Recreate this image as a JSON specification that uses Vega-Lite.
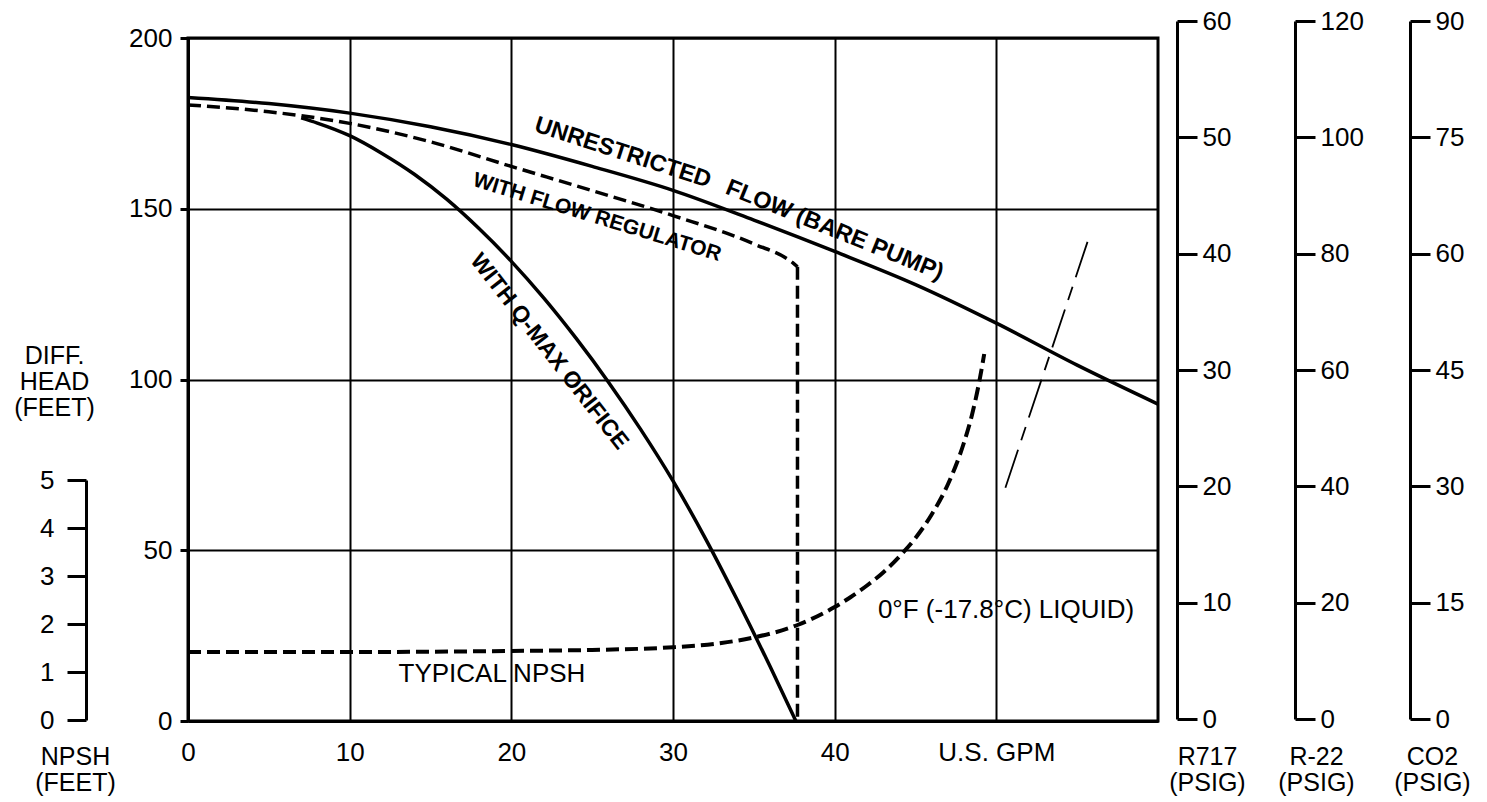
{
  "$schema": "https://vega.github.io/schema/vega-lite/v6.json",
  "width": 970,
  "height": 683,
  "autosize": {"type": "none"},
  "padding": {"left": 188, "top": 38, "right": 329, "bottom": 81},
  "background": "white",
  "config": {
    "view": {"stroke": "black", "strokeWidth": 3},
    "font": "Liberation Sans",
    "axis": {
      "labelFont": "Liberation Sans",
      "labelFontSize": 26,
      "labelColor": "black",
      "labelFlush": false,
      "labelOverlap": false,
      "titleFont": "Liberation Sans",
      "titleFontSize": 25,
      "titleFontWeight": "normal",
      "titleColor": "black",
      "titleLineHeight": 26,
      "domainColor": "black",
      "domainWidth": 3,
      "tickColor": "black",
      "tickWidth": 3,
      "gridColor": "black",
      "gridWidth": 2,
      "gridOpacity": 1
    }
  },
  "datasets": {
    "curves": [
      {"series": "Unrestricted flow", "gpm": 0, "head": 182.6},
      {"series": "Unrestricted flow", "gpm": 5, "head": 180.8},
      {"series": "Unrestricted flow", "gpm": 10, "head": 178.0},
      {"series": "Unrestricted flow", "gpm": 15, "head": 174.0},
      {"series": "Unrestricted flow", "gpm": 20, "head": 168.8},
      {"series": "Unrestricted flow", "gpm": 25, "head": 162.4},
      {"series": "Unrestricted flow", "gpm": 30, "head": 155.4},
      {"series": "Unrestricted flow", "gpm": 35, "head": 146.7},
      {"series": "Unrestricted flow", "gpm": 40, "head": 137.5},
      {"series": "Unrestricted flow", "gpm": 45, "head": 127.8},
      {"series": "Unrestricted flow", "gpm": 50, "head": 116.5},
      {"series": "Unrestricted flow", "gpm": 55, "head": 104.2},
      {"series": "Unrestricted flow", "gpm": 60, "head": 92.8},
      {"series": "Flow regulator", "gpm": 0, "head": 180.4},
      {"series": "Flow regulator", "gpm": 5, "head": 178.4},
      {"series": "Flow regulator", "gpm": 10, "head": 175.0},
      {"series": "Flow regulator", "gpm": 15, "head": 169.6},
      {"series": "Flow regulator", "gpm": 20, "head": 162.4},
      {"series": "Flow regulator", "gpm": 25, "head": 155.3},
      {"series": "Flow regulator", "gpm": 30, "head": 148.0},
      {"series": "Flow regulator", "gpm": 35, "head": 139.7},
      {"series": "Flow regulator", "gpm": 37.4, "head": 134.2},
      {"series": "Flow regulator", "gpm": 37.7, "head": 133.0},
      {"series": "Flow regulator drop", "gpm": 37.7, "head": 133.0},
      {"series": "Flow regulator drop", "gpm": 37.7, "head": 0},
      {"series": "Q-max orifice", "gpm": 7.0, "head": 176.6},
      {"series": "Q-max orifice", "gpm": 8, "head": 175.1},
      {"series": "Q-max orifice", "gpm": 10, "head": 171.4},
      {"series": "Q-max orifice", "gpm": 12, "head": 166.2},
      {"series": "Q-max orifice", "gpm": 14, "head": 160.1},
      {"series": "Q-max orifice", "gpm": 16, "head": 152.8},
      {"series": "Q-max orifice", "gpm": 18, "head": 144.2},
      {"series": "Q-max orifice", "gpm": 20, "head": 134.6},
      {"series": "Q-max orifice", "gpm": 22, "head": 123.9},
      {"series": "Q-max orifice", "gpm": 24, "head": 112.1},
      {"series": "Q-max orifice", "gpm": 26, "head": 99.3},
      {"series": "Q-max orifice", "gpm": 28, "head": 85.4},
      {"series": "Q-max orifice", "gpm": 30, "head": 70.3},
      {"series": "Q-max orifice", "gpm": 32, "head": 53.5},
      {"series": "Q-max orifice", "gpm": 34, "head": 35.2},
      {"series": "Q-max orifice", "gpm": 36, "head": 16.0},
      {"series": "Q-max orifice", "gpm": 37.6, "head": 0},
      {"series": "Limit", "gpm": 50.56, "head": 68.3},
      {"series": "Limit", "gpm": 55.64, "head": 140.3}
    ],
    "npsh": [
      {"gpm": 0, "npsh": 1.417},
      {"gpm": 10, "npsh": 1.417},
      {"gpm": 20, "npsh": 1.438},
      {"gpm": 25, "npsh": 1.46},
      {"gpm": 30, "npsh": 1.515},
      {"gpm": 33, "npsh": 1.604},
      {"gpm": 35, "npsh": 1.719},
      {"gpm": 37.7, "npsh": 1.979},
      {"gpm": 40, "npsh": 2.354},
      {"gpm": 41, "npsh": 2.563},
      {"gpm": 42, "npsh": 2.802},
      {"gpm": 43, "npsh": 3.073},
      {"gpm": 44, "npsh": 3.406},
      {"gpm": 45, "npsh": 3.792},
      {"gpm": 46, "npsh": 4.281},
      {"gpm": 47, "npsh": 4.906},
      {"gpm": 48, "npsh": 5.781},
      {"gpm": 48.5, "npsh": 6.365},
      {"gpm": 49, "npsh": 7.146},
      {"gpm": 49.25, "npsh": 7.625}
    ]
  },
  "encoding": {
    "x": {
      "field": "gpm",
      "type": "quantitative",
      "scale": {"domain": [0, 60], "nice": false, "zero": false},
      "axis": {
        "values": [0, 10, 20, 30, 40, 50],
        "grid": true,
        "ticks": false,
        "labelPadding": 18,
        "title": null,
        "labelExpr": "datum.value == 50 ? 'U.S. GPM' : datum.label"
      }
    }
  },
  "layer": [
    {
      "data": {"name": "curves"},
      "encoding": {
        "y": {
          "field": "head",
          "type": "quantitative",
          "scale": {"domain": [0, 200], "nice": false, "zero": false},
          "axis": {
            "orient": "left",
            "offset": 0,
            "values": [0, 50, 100, 150, 200],
            "grid": true,
            "tickSize": 8,
            "labelPadding": 8,
            "title": ["DIFF.", "HEAD", "(FEET)"],
            "titleAngle": 0,
            "titleAlign": "center",
            "titleBaseline": "top",
            "titleX": -134,
            "titleY": 305
          }
        }
      },
      "layer": [
        {
          "transform": [{"filter": "datum.series == 'Unrestricted flow'"}],
          "mark": {"type": "line", "color": "black", "strokeWidth": 3.5, "interpolate": "monotone"}
        },
        {
          "transform": [{"filter": "datum.series == 'Flow regulator'"}],
          "mark": {"type": "line", "color": "black", "strokeWidth": 3.5, "strokeDash": [13, 6], "interpolate": "monotone"}
        },
        {
          "transform": [{"filter": "datum.series == 'Flow regulator drop'"}],
          "mark": {"type": "line", "color": "black", "strokeWidth": 3.5, "strokeDash": [13, 6]}
        },
        {
          "transform": [{"filter": "datum.series == 'Q-max orifice'"}],
          "mark": {"type": "line", "color": "black", "strokeWidth": 3.5, "interpolate": "monotone"}
        },
        {
          "transform": [{"filter": "datum.series == 'Limit'"}],
          "mark": {"type": "line", "color": "black", "strokeWidth": 1.8, "strokeDash": [40, 10, 14, 10]}
        },
        {
          "data": {"values": [{"label": "UNRESTRICTED", "gpm": 26.9, "head": 166.4}]},
          "mark": {"type": "text", "font": "Liberation Sans", "fontWeight": "bold", "fontSize": 23.5, "angle": 18, "align": "center", "baseline": "middle", "color": "black"},
          "encoding": {"text": {"field": "label"}}
        },
        {
          "data": {"values": [{"label": "FLOW (BARE PUMP)", "gpm": 40.0, "head": 143.7}]},
          "mark": {"type": "text", "font": "Liberation Sans", "fontWeight": "bold", "fontSize": 23.5, "angle": 22, "align": "center", "baseline": "middle", "color": "black"},
          "encoding": {"text": {"field": "label"}}
        },
        {
          "data": {"values": [{"label": "WITH FLOW REGULATOR", "gpm": 25.3, "head": 147.4}]},
          "mark": {"type": "text", "font": "Liberation Sans", "fontWeight": "bold", "fontSize": 21, "angle": 17, "align": "center", "baseline": "middle", "color": "black"},
          "encoding": {"text": {"field": "label"}}
        },
        {
          "data": {"values": [{"label": "WITH Q-MAX ORIFICE", "gpm": 22.35, "head": 108.2}]},
          "mark": {"type": "text", "font": "Liberation Sans", "fontWeight": "bold", "fontSize": 23, "angle": 52, "align": "center", "baseline": "middle", "color": "black"},
          "encoding": {"text": {"field": "label"}}
        },
        {
          "data": {"values": [{"label": "0°F (-17.8°C) LIQUID)", "gpm": 50.6, "head": 32.6}]},
          "mark": {"type": "text", "font": "Liberation Sans", "fontSize": 26, "align": "center", "baseline": "middle", "color": "black"},
          "encoding": {"text": {"field": "label"}}
        },
        {
          "data": {"values": [{"label": "TYPICAL NPSH", "gpm": 18.8, "head": 13.8}]},
          "mark": {"type": "text", "font": "Liberation Sans", "fontSize": 26, "align": "center", "baseline": "middle", "color": "black"},
          "encoding": {"text": {"field": "label"}}
        }
      ]
    },
    {
      "data": {"name": "npsh"},
      "mark": {"type": "line", "color": "black", "strokeWidth": 4, "strokeDash": [13, 6], "interpolate": "monotone"},
      "encoding": {
        "y": {
          "field": "npsh",
          "type": "quantitative",
          "scale": {"domain": [0, 5], "range": [682, 442], "nice": false, "zero": false},
          "axis": {
            "orient": "left",
            "offset": 102,
            "values": [0, 1, 2, 3, 4, 5],
            "grid": false,
            "tickSize": 19,
            "labelPadding": 13,
            "title": ["NPSH", "(FEET)"],
            "titleAngle": 0,
            "titleAlign": "center",
            "titleBaseline": "top",
            "titleX": -11,
            "titleY": 706
          }
        }
      }
    },
    {
      "data": {"values": [{"psig": 0}, {"psig": 60}]},
      "mark": {"type": "point", "opacity": 0},
      "encoding": {
        "y": {
          "field": "psig",
          "type": "quantitative",
          "scale": {"domain": [0, 60], "range": [681, -17], "nice": false, "zero": false},
          "axis": {
            "orient": "right",
            "offset": 19,
            "values": [0, 10, 20, 30, 40, 50, 60],
            "grid": false,
            "tickSize": 20,
            "labelPadding": 5,
            "title": ["R717", "(PSIG)"],
            "titleAngle": 0,
            "titleAlign": "center",
            "titleBaseline": "top",
            "titleX": 30,
            "titleY": 706
          }
        }
      }
    },
    {
      "data": {"values": [{"psig": 0}, {"psig": 120}]},
      "mark": {"type": "point", "opacity": 0},
      "encoding": {
        "y": {
          "field": "psig",
          "type": "quantitative",
          "scale": {"domain": [0, 120], "range": [681, -17], "nice": false, "zero": false},
          "axis": {
            "orient": "right",
            "offset": 137,
            "values": [0, 20, 40, 60, 80, 100, 120],
            "grid": false,
            "tickSize": 20,
            "labelPadding": 5,
            "title": ["R-22", "(PSIG)"],
            "titleAngle": 0,
            "titleAlign": "center",
            "titleBaseline": "top",
            "titleX": 21,
            "titleY": 706
          }
        }
      }
    },
    {
      "data": {"values": [{"psig": 0}, {"psig": 90}]},
      "mark": {"type": "point", "opacity": 0},
      "encoding": {
        "y": {
          "field": "psig",
          "type": "quantitative",
          "scale": {"domain": [0, 90], "range": [681, -17], "nice": false, "zero": false},
          "axis": {
            "orient": "right",
            "offset": 252,
            "values": [0, 15, 30, 45, 60, 75, 90],
            "grid": false,
            "tickSize": 20,
            "labelPadding": 5,
            "title": ["CO2", "(PSIG)"],
            "titleAngle": 0,
            "titleAlign": "center",
            "titleBaseline": "top",
            "titleX": 22,
            "titleY": 706
          }
        }
      }
    }
  ],
  "resolve": {"scale": {"y": "independent"}}
}
